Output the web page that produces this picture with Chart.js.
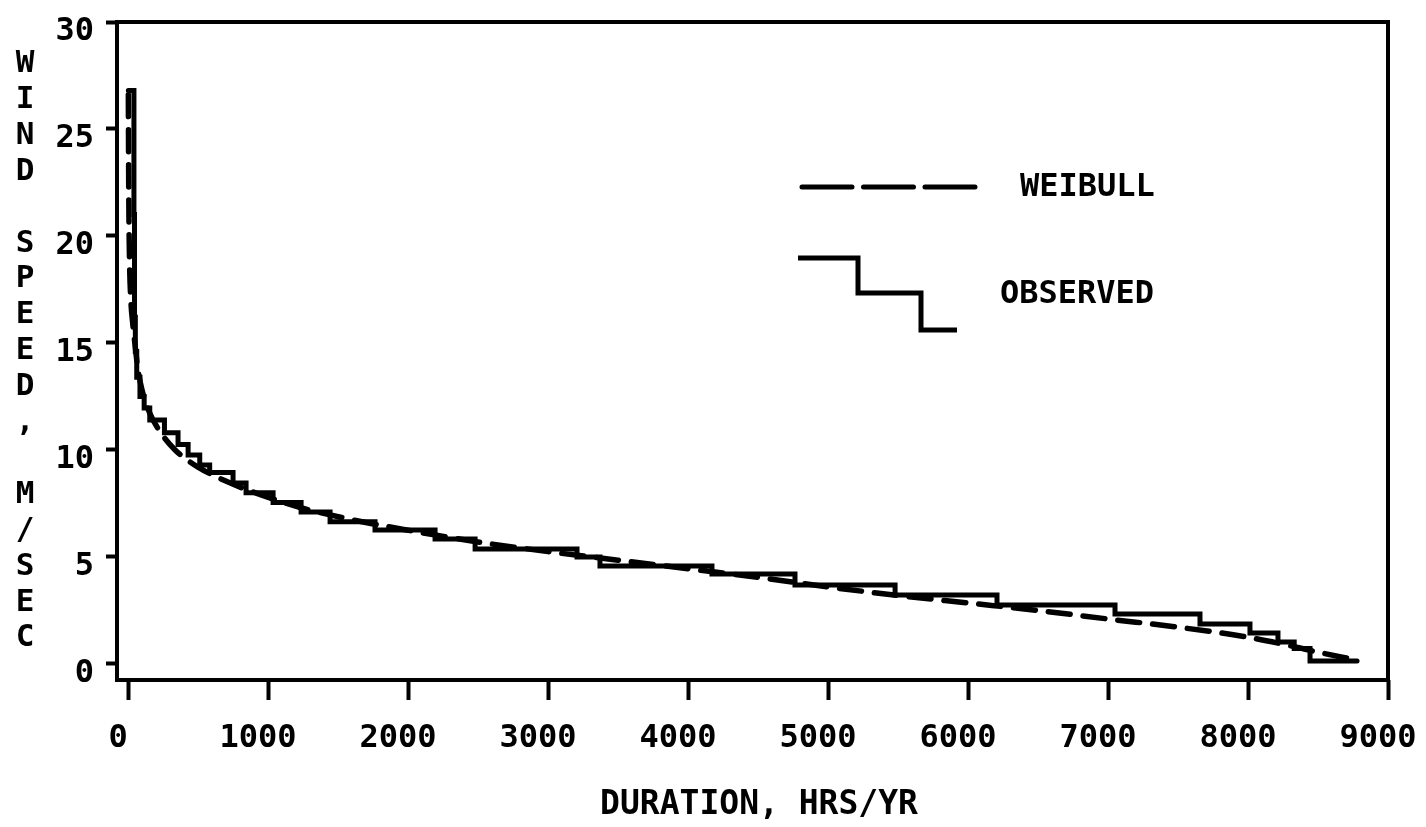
<!DOCTYPE html>
<html lang="en">
<head>
<meta charset="utf-8">
<title>Wind speed duration curve</title>
<script src="https://cdn.jsdelivr.net/npm/chart.js@4.4.0/dist/chart.umd.min.js"></script>
<style>
  html, body { margin: 0; padding: 0; background: #fff; }
</style>
</head>
<body>
<canvas id="chart" width="1426" height="827"></canvas>
<script>
// Weibull fit: hours per year the speed is reached or exceeded
var weibullHours = [2, 5, 10, 20, 32, 50, 70, 100, 150, 214, 336, 500, 714, 950, 1236, 1593, 2000,
                    2500, 3000, 3500, 4000, 4500, 5000, 5500, 6000, 6500, 7000, 7500, 8000, 8300, 8500, 8760];
var weibullSpeed = [26.6, 22.0, 19.0, 17.0, 16.0, 14.9, 13.8, 12.8, 11.8, 11.0, 10.0, 9.2, 8.5, 7.9, 7.3, 6.75, 6.25,
                    5.7, 5.25, 4.85, 4.45, 4.05, 3.6, 3.2, 2.85, 2.5, 2.1, 1.72, 1.25, 0.85, 0.55, 0.2];

// Observed curve: right-hand end of each speed step (hrs/yr) and its speed (m/s)
var observedHours = [2, 42, 46, 52, 62, 85, 115, 155, 260, 357, 429, 512, 583, 750, 843, 1036,
                     1236, 1443, 1764, 2193, 2479, 3207, 3371, 4171, 4764, 5479, 6207, 7050, 7657, 8014,
                     8214, 8330, 8443, 8779];
var observedSpeed = [26.8, 26.8, 21.0, 16.2, 14.6, 13.4, 12.5, 11.96, 11.4, 10.8, 10.25, 9.77,
                     9.3, 8.95, 8.46, 8.0, 7.55, 7.1, 6.65, 6.26, 5.84, 5.37, 5.0, 4.58, 4.2, 3.69, 3.22, 2.76,
                     2.34, 1.87, 1.45, 1.03, 0.72, 0.14];

var xTicks = [0, 1000, 2000, 3000, 4000, 5000, 6000, 7000, 8000, 9000];
var yTicks = [0, 5, 10, 15, 20, 25, 30];

var FONT = '"DejaVu Sans Mono", monospace';

function pairs(xs, ys) {
  return xs.map(function (x, i) { return { x: x, y: ys[i] }; });
}

// keep the plot frame where the layout puts it, labels may hang over
function noLabelPadding(s) {
  s.paddingLeft = 0;
  s.paddingRight = 0;
  s.paddingTop = 0;
  s.paddingBottom = 0;
}

// frame, stacked y title, x title and the hand-placed key
var decorations = {
  id: 'decorations',
  afterDraw: function (chart) {
    var ctx = chart.ctx, a = chart.chartArea;
    ctx.save();
    ctx.strokeStyle = '#000';
    ctx.fillStyle = '#000';
    ctx.lineWidth = 4;
    ctx.strokeRect(a.left, a.top, a.right - a.left, a.bottom - a.top);

    ctx.textAlign = 'center';
    ctx.textBaseline = 'middle';
    ctx.font = 'bold 31px ' + FONT;
    var letters = 'WIND SPEED, M/SEC'.split('');
    letters.forEach(function (ch, i) {
      if (ch !== ' ') ctx.fillText(ch, 25, 64 + i * 35.9);
    });

    ctx.font = 'bold 33px ' + FONT;
    ctx.fillText('DURATION, HRS/YR', 759, 805);

    // key
    ctx.lineWidth = 5;
    ctx.lineCap = 'round';
    ctx.setLineDash([50, 11.5]);
    ctx.beginPath();
    ctx.moveTo(802, 187);
    ctx.lineTo(976, 187);
    ctx.stroke();
    ctx.setLineDash([]);
    ctx.lineCap = 'butt';
    ctx.beginPath();
    ctx.moveTo(798, 258);
    ctx.lineTo(858, 258);
    ctx.lineTo(858, 293);
    ctx.lineTo(921, 293);
    ctx.lineTo(921, 330);
    ctx.lineTo(957, 330);
    ctx.stroke();

    ctx.textAlign = 'left';
    ctx.font = 'bold 32px ' + FONT;
    ctx.fillText('WEIBULL', 1020, 188);
    ctx.fillText('OBSERVED', 1000, 295);
    ctx.restore();
  }
};

new Chart(document.getElementById('chart'), {
  type: 'line',
  data: {
    datasets: [
      {
        label: 'WEIBULL',
        data: pairs(weibullHours, weibullSpeed),
        borderColor: '#000',
        borderWidth: 5.5,
        borderDash: [22, 13],
        borderCapStyle: 'round',
        cubicInterpolationMode: 'monotone',
        pointRadius: 0,
        fill: false
      },
      {
        label: 'OBSERVED',
        data: pairs(observedHours, observedSpeed),
        borderColor: '#000',
        borderWidth: 5,
        borderCapStyle: 'round',
        stepped: 'after',
        pointRadius: 0,
        fill: false
      }
    ]
  },
  options: {
    responsive: false,
    animation: false,
    layout: { padding: { top: 22, right: 38, left: 0, bottom: 0 } },
    plugins: {
      legend: { display: false },
      tooltip: { enabled: false }
    },
    scales: {
      x: {
        type: 'linear',
        min: -79,
        max: 9000,
        afterBuildTicks: function (s) { s.ticks = xTicks.map(function (v) { return { value: v }; }); },
        afterFit: function (s) { s.height = 147; noLabelPadding(s); },
        border: { display: false },
        grid: { drawOnChartArea: false, drawTicks: true, tickLength: 20, tickWidth: 4, tickColor: '#000' },
        ticks: {
          color: '#000',
          font: { family: FONT, size: 32, weight: 'bold' },
          padding: 19,
          labelOffset: -10,
          maxRotation: 0,
          autoSkip: false,
          callback: function (v) { return String(v); }
        }
      },
      y: {
        min: -0.75,
        max: 30,
        afterBuildTicks: function (s) { s.ticks = yTicks.map(function (v) { return { value: v }; }); },
        afterFit: function (s) { s.width = 117; noLabelPadding(s); },
        border: { display: false },
        grid: { drawOnChartArea: false, drawTicks: true, tickLength: 11, tickWidth: 4, tickColor: '#000' },
        ticks: {
          color: '#000',
          font: { family: FONT, size: 32, weight: 'bold' },
          padding: 12,
          labelOffset: 10,
          autoSkip: false,
          callback: function (v) { return String(v); }
        }
      }
    }
  },
  plugins: [decorations]
});
</script>
</body>
</html>
